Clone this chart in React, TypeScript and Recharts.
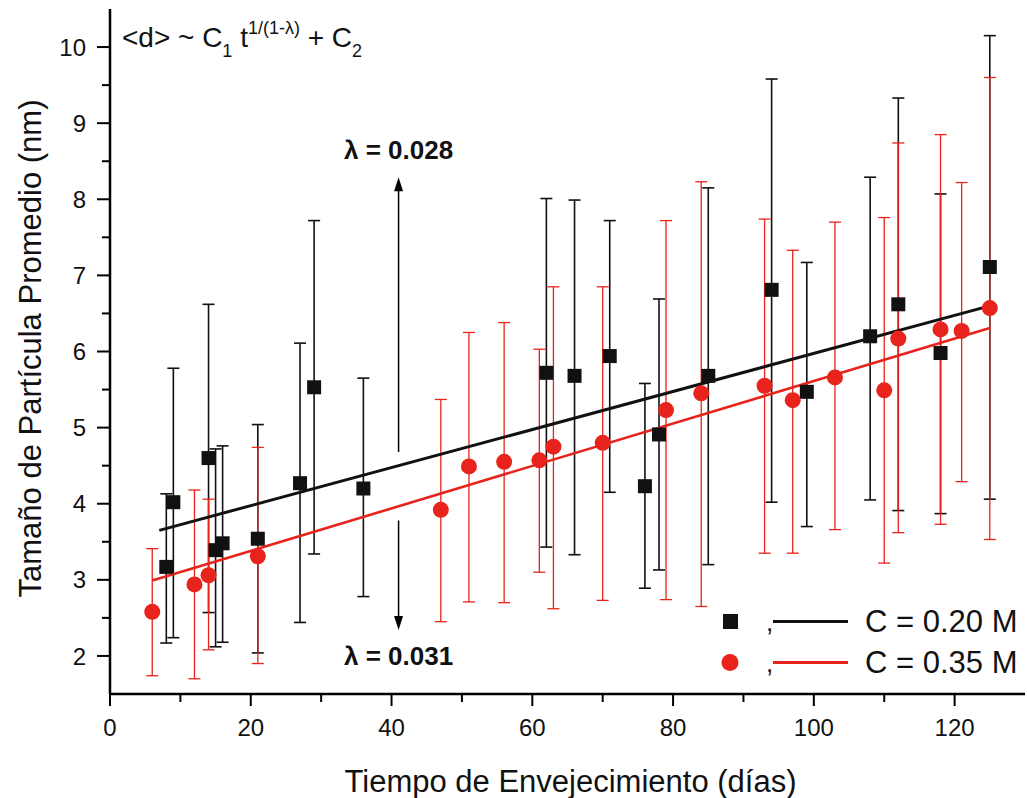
import React from 'react';
import {
  ComposedChart,
  Scatter,
  Line,
  XAxis,
  YAxis,
  ErrorBar,
  ReferenceLine,
  ReferenceDot,
  Label,
  Legend,
} from 'recharts';

// C = 0.20 M (black squares)
const blackDays = [8, 9, 14, 15, 16, 21, 27, 29, 36, 62, 66, 71, 76, 78, 85, 94, 99, 108, 112, 118, 125];
const blackSize = [3.17, 4.02, 4.6, 3.39, 3.48, 3.54, 4.27, 5.53, 4.2, 5.72, 5.68, 5.94, 4.23, 4.91, 5.68, 6.81, 5.47, 6.2, 6.62, 5.98, 7.11];
const blackHigh = [4.13, 5.78, 6.62, 4.72, 4.76, 5.04, 6.11, 7.72, 5.65, 8.01, 7.99, 7.72, 5.58, 6.69, 8.15, 9.58, 7.17, 8.29, 9.33, 8.07, 10.15];
const blackLow = [2.17, 2.24, 2.57, 2.12, 2.18, 2.04, 2.44, 3.34, 2.78, 3.43, 3.33, 4.15, 2.89, 3.13, 3.2, 4.02, 3.7, 4.05, 3.91, 3.87, 4.06];

// C = 0.35 M (red circles)
const redDays = [6, 12, 14, 21, 47, 51, 56, 61, 63, 70, 79, 84, 93, 97, 103, 110, 112, 118, 121, 125];
const redSize = [2.58, 2.94, 3.06, 3.31, 3.92, 4.49, 4.55, 4.57, 4.75, 4.8, 5.23, 5.45, 5.55, 5.36, 5.66, 5.49, 6.17, 6.29, 6.27, 6.57];
const redHigh = [3.41, 4.18, 4.06, 4.74, 5.37, 6.25, 6.38, 6.03, 6.85, 6.85, 7.72, 8.23, 7.74, 7.33, 7.7, 7.76, 8.74, 8.85, 8.22, 9.6];
const redLow = [1.74, 1.7, 2.08, 1.9, 2.45, 2.71, 2.7, 3.1, 2.62, 2.73, 2.74, 2.65, 3.35, 3.35, 3.66, 3.22, 3.62, 3.73, 4.29, 3.53];

// fitted curves, end points
const blackFitDays = [7, 125];
const blackFitSize = [3.65, 6.6];
const redFitDays = [6, 125];
const redFitSize = [2.99, 6.31];

// lambda arrows
const arrowDay = 41;
const upArrow = [4.68, 8.29];
const downArrow = [3.78, 2.34];
const upLabel = 'λ = 0.028';
const downLabel = 'λ = 0.031';

const xTicks = [0, 10, 20, 30, 40, 50, 60, 70, 80, 90, 100, 110, 120];
const yTicks = [2, 2.5, 3, 3.5, 4, 4.5, 5, 5.5, 6, 6.5, 7, 7.5, 8, 8.5, 9, 9.5, 10];

const seriesNames = ['C = 0.20 M', 'C = 0.35 M'];
const seriesColors = ['#111111', '#e8231c'];

const FONT = '"Liberation Sans", Arial, sans-serif';

const toPoints = (days: number[], size: number[], high: number[], low: number[]) =>
  days.map((d, i) => ({ x: d, y: size[i], err: [size[i] - low[i], high[i] - size[i]] }));

const toLine = (days: number[], size: number[]) => days.map((d, i) => ({ x: d, y: size[i] }));

const blackData = toPoints(blackDays, blackSize, blackHigh, blackLow);
const redData = toPoints(redDays, redSize, redHigh, redLow);
const blackFit = toLine(blackFitDays, blackFitSize);
const redFit = toLine(redFitDays, redFitSize);

const XTick = (props: any) => {
  const { x, y, payload } = props;
  const major = payload.value % 20 === 0;
  return (
    <g>
      <line x1={x} x2={x} y1={y} y2={y + (major ? 12 : 8)} stroke="#000" strokeWidth={2} />
      {major && (
        <text x={x} y={y + 42} textAnchor="middle" fontSize={24} fill="#111" fontFamily={FONT}>
          {payload.value}
        </text>
      )}
    </g>
  );
};

const YTick = (props: any) => {
  const { x, y, payload } = props;
  const major = payload.value % 1 === 0;
  return (
    <g>
      <line x1={x} x2={x - (major ? 13 : 8)} y1={y} y2={y} stroke="#000" strokeWidth={2} />
      {major && (
        <text x={x - 24} y={y} dy="0.36em" textAnchor="end" fontSize={24} fill="#111" fontFamily={FONT}>
          {payload.value}
        </text>
      )}
    </g>
  );
};

const Arrow = (props: any) => {
  const { x1, y1, x2, y2 } = props;
  const dir = y2 < y1 ? -1 : 1;
  return (
    <g>
      <line x1={x1} y1={y1} x2={x2} y2={y2 - dir * 12} stroke="#000" strokeWidth={1.5} />
      <polygon
        points={`${x2},${y2} ${x2 - 4.5},${y2 - dir * 14} ${x2 + 4.5},${y2 - dir * 14}`}
        fill="#000"
      />
    </g>
  );
};

const lambdaLabel = (text: string) => (props: any) => {
  const { viewBox } = props;
  const cx = viewBox.x + viewBox.width / 2;
  const cy = viewBox.y + viewBox.height / 2;
  return (
    <text x={cx} y={cy} dy="0.36em" textAnchor="middle" fontSize={26} fontWeight="bold" fill="#111" fontFamily={FONT}>
      {text}
    </text>
  );
};

const formulaLabel = (props: any) => {
  const { viewBox } = props;
  const x = viewBox.x + viewBox.width / 2;
  const y = viewBox.y + viewBox.height / 2;
  return (
    <text x={x} y={y} fontSize={28} fill="#111" fontFamily={FONT}>
      <tspan>{'<d> ~ C'}</tspan>
      <tspan fontSize={18} dy={10}>1</tspan>
      <tspan dy={-10}> t</tspan>
      <tspan fontSize={18} dy={-13}>1/(1-λ)</tspan>
      <tspan dy={13}> + C</tspan>
      <tspan fontSize={18} dy={10}>2</tspan>
    </text>
  );
};

const LegendBox = () => (
  <div style={{ fontFamily: FONT, color: '#111' }}>
    {seriesNames.map((name, i) => (
      <div key={name} style={{ display: 'flex', alignItems: 'center', height: 41 }}>
        <svg width={150} height={41}>
          {i === 0 ? (
            <rect x={8} y={13} width={15} height={15} fill={seriesColors[i]} />
          ) : (
            <circle cx={15} cy={20.5} r={8.5} fill={seriesColors[i]} />
          )}
          <text x={51} y={30} fontSize={26} fill="#111">,</text>
          <line x1={58} x2={133} y1={20.5} y2={20.5} stroke={seriesColors[i]} strokeWidth={3} />
        </svg>
        <span style={{ fontSize: 31, whiteSpace: 'nowrap' }}>{name}</span>
      </div>
    ))}
  </div>
);

const App = () => {
  return (
    <div style={{ position: 'absolute', left: 0, top: 0, width: 1027, height: 798, background: '#fff', fontFamily: FONT }}>
      <ComposedChart width={1027} height={798} margin={{ top: 9, right: 2, left: 50, bottom: 74 }}>
        <XAxis
          type="number"
          dataKey="x"
          domain={[0, 130]}
          ticks={xTicks}
          interval={0}
          allowDataOverflow
          tickSize={0}
          tickMargin={0}
          tickLine={false}
          tick={<XTick />}
          height={30}
          axisLine={{ stroke: '#000', strokeWidth: 2.5 }}
        >
          <Label
            content={(p: any) => (
              <text
                x={p.viewBox.x + p.viewBox.width / 2 + 3}
                y={792}
                textAnchor="middle"
                fontSize={31}
                fill="#111"
                fontFamily={FONT}
              >
                Tiempo de Envejecimiento (días)
              </text>
            )}
          />
        </XAxis>
        <YAxis
          type="number"
          dataKey="y"
          domain={[1.5, 10.5]}
          ticks={yTicks}
          interval={0}
          allowDataOverflow
          tickSize={0}
          tickMargin={0}
          tickLine={false}
          tick={<YTick />}
          width={60}
          axisLine={{ stroke: '#000', strokeWidth: 2.5 }}
        >
          <Label
            content={(p: any) => {
              const cx = 30;
              const cy = p.viewBox.y + p.viewBox.height / 2 - 3;
              return (
                <text
                  x={cx}
                  y={cy}
                  dy="0.36em"
                  textAnchor="middle"
                  fontSize={31}
                  fill="#111"
                  fontFamily={FONT}
                  transform={`rotate(-90 ${cx} ${cy})`}
                >
                  Tamaño de Partícula Promedio (nm)
                </text>
              );
            }}
          />
        </YAxis>

        <ReferenceLine
          segment={[{ x: arrowDay, y: upArrow[0] }, { x: arrowDay, y: upArrow[1] }]}
          shape={<Arrow />}
        />
        <ReferenceLine
          segment={[{ x: arrowDay, y: downArrow[0] }, { x: arrowDay, y: downArrow[1] }]}
          shape={<Arrow />}
        />
        <ReferenceDot x={arrowDay} y={8.65} r={1} fill="none" stroke="none" label={lambdaLabel(upLabel)} />
        <ReferenceDot x={arrowDay} y={2.01} r={1} fill="none" stroke="none" label={lambdaLabel(downLabel)} />
        <ReferenceDot x={1.7} y={10.0} r={1} fill="none" stroke="none" label={formulaLabel} />

        <Scatter
          name={seriesNames[0]}
          data={blackData}
          dataKey="y"
          fill={seriesColors[0]}
          isAnimationActive={false}
          shape={(p: any) => <rect x={p.cx - 7} y={p.cy - 7} width={14} height={14} fill={seriesColors[0]} />}
        >
          <ErrorBar dataKey="err" direction="y" width={6} stroke={seriesColors[0]} strokeWidth={1.6} />
        </Scatter>
        <Scatter
          name={seriesNames[1]}
          data={redData}
          dataKey="y"
          fill={seriesColors[1]}
          isAnimationActive={false}
          shape={(p: any) => <circle cx={p.cx} cy={p.cy} r={8} fill={seriesColors[1]} />}
        >
          <ErrorBar dataKey="err" direction="y" width={6} stroke={seriesColors[1]} strokeWidth={1.3} />
        </Scatter>

        <Line
          data={blackFit}
          dataKey="y"
          stroke={seriesColors[0]}
          strokeWidth={3}
          dot={false}
          activeDot={false}
          isAnimationActive={false}
          legendType="none"
        />
        <Line
          data={redFit}
          dataKey="y"
          stroke={seriesColors[1]}
          strokeWidth={2.6}
          dot={false}
          activeDot={false}
          isAnimationActive={false}
          legendType="none"
        />

        <Legend
          layout="horizontal"
          verticalAlign="middle"
          align="center"
          content={<LegendBox />}
          wrapperStyle={{ left: 715, top: 601, width: 312 }}
        />
      </ComposedChart>
    </div>
  );
};

export default App;
